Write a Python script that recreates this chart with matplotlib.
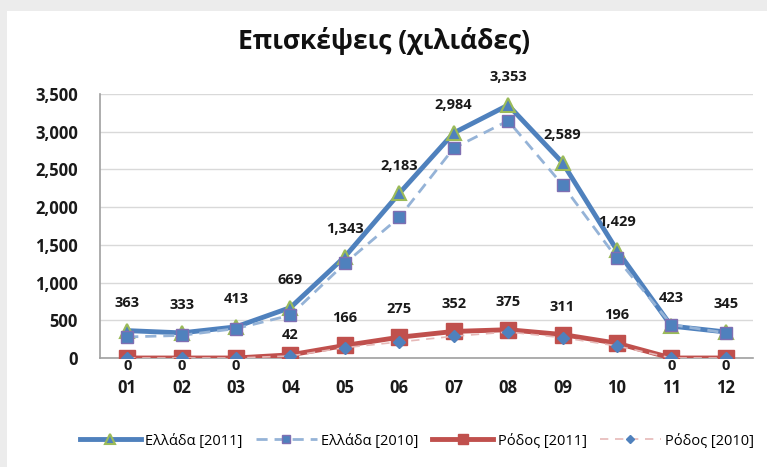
import matplotlib.pyplot as plt
from matplotlib.patches import Rectangle

plt.rcParams['font.family'] = ['Open Sans', 'DejaVu Sans']

months = ['01', '02', '03', '04', '05', '06', '07', '08', '09', '10', '11', '12']
greece_2011 = [363, 333, 413, 669, 1343, 2183, 2984, 3353, 2589, 1429, 423, 345]
greece_2010 = [279, 300, 390, 567, 1254, 1865, 2782, 3145, 2295, 1320, 443, 332]
rhodes_2011 = [0, 0, 0, 42, 166, 275, 352, 375, 311, 196, 0, 0]
rhodes_2010 = [0, 0, 0, 27, 137, 213, 288, 345, 270, 160, 0, 0]
yticks = [0, 500, 1000, 1500, 2000, 2500, 3000, 3500]

fig = plt.figure(figsize=(7.67, 4.67), dpi=100, facecolor='#ececec')
fig.patches.append(Rectangle((7 / 767, 0), 1, 1 - 11 / 467, transform=fig.transFigure,
                             facecolor='white', edgecolor='none', zorder=-10))

ax = fig.add_axes([100 / 767, 109 / 467, 653 / 767, 264 / 467])
ax.set_facecolor('none')
x = list(range(len(months)))

ax.plot(x, greece_2011, color='#4F81BD', lw=3.5, marker='^', ms=10,
        mfc='#4F81BD', mec='#9BBB59', mew=1.5, label='Ελλάδα [2011]', zorder=4)
ax.plot(x, greece_2010, color='#95B3D7', lw=2, ls=(0, (4, 2.5)), marker='s', ms=8,
        mfc='#4F81BD', mec='#7F6FB2', mew=1, label='Ελλάδα [2010]', zorder=5)
ax.plot(x, rhodes_2011, color='#C0504D', lw=3.5, marker='s', ms=12,
        mfc='#C0504D', mec='#C0504D', label='Ρόδος [2011]', zorder=4)
ax.plot(x, rhodes_2010, color='#E6B9B8', lw=1.2, ls=(0, (5, 4)), marker='D', ms=6.5,
        mfc='#4F81BD', mec='#4F81BD', label='Ρόδος [2010]', zorder=5)

for i, v in enumerate(greece_2011):
    ax.annotate(f'{v:,}', (i, v), xytext=(0, 20), textcoords='offset points',
                ha='center', va='center', fontsize=10.5, fontweight='bold', color='#1a1a1a', zorder=6)
for i, v in enumerate(rhodes_2011):
    dy = -5.5 if v == 0 else (14 if v < 100 else 20)
    ax.annotate(f'{v:,}', (i, v), xytext=(0, dy), textcoords='offset points',
                ha='center', va='center', fontsize=10.5, fontweight='bold', color='#1a1a1a', zorder=6)

ax.set_xlim(-0.5, 11.5)
ax.set_ylim(0, 3500)
ax.set_yticks(yticks)
ax.set_yticklabels([f'{t:,}' for t in yticks])
ax.set_xticks(x)
ax.set_xticklabels(months)
ax.tick_params(axis='y', length=0, pad=16, labelsize=12)
ax.tick_params(axis='x', length=0, pad=15, labelsize=12)
for lab in ax.get_xticklabels() + ax.get_yticklabels():
    lab.set_fontweight('bold')
    lab.set_color('#1a1a1a')
ax.grid(axis='y', color='#d9d9d9', lw=1)
ax.set_axisbelow(True)
for s in ['top', 'right']:
    ax.spines[s].set_visible(False)
ax.spines['left'].set_color('#a0a0a0')
ax.spines['bottom'].set_color('#a0a0a0')
ax.spines['left'].set_linewidth(1.2)
ax.spines['bottom'].set_linewidth(1.2)

fig.text(384 / 767, 1 - 41 / 467, 'Επισκέψεις (χιλιάδες)', ha='center', va='center',
         fontsize=19, fontweight='bold', color='#111111')

fig.legend(loc='center', bbox_to_anchor=(417 / 767, 1 - 441 / 467), ncol=4, frameon=False,
           fontsize=10.5, handlelength=4.2, columnspacing=0.9, handletextpad=0.3,
           markerscale=0.65)

fig.savefig('out.png', dpi=100, facecolor=fig.get_facecolor())
